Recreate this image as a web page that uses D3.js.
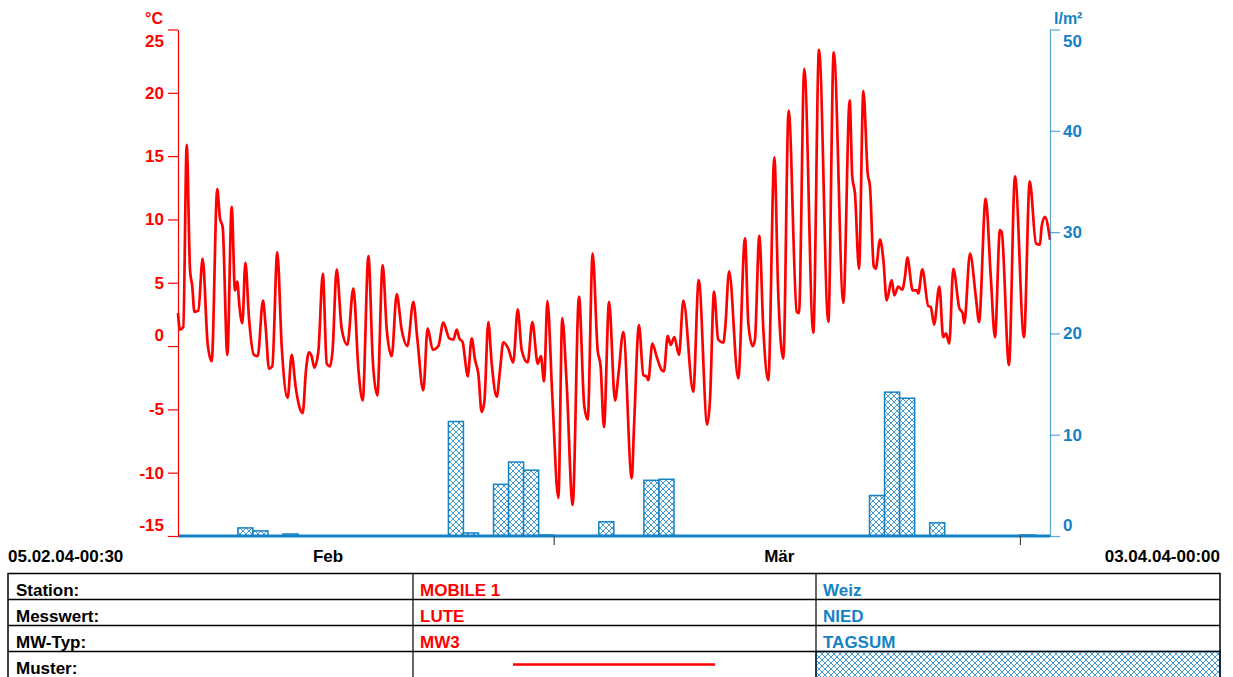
<!DOCTYPE html>
<html>
<head>
<meta charset="utf-8">
<script src="https://cdn.jsdelivr.net/npm/d3@7"></script>
<style>
  body { margin: 0; background: #fff; }
  svg { display: block; font-family: "Liberation Sans", Arial, sans-serif; font-weight: bold; }
</style>
</head>
<body>
<svg width="1233" height="677"></svg>
<script>
const svg = d3.select("svg");

const red = "#ff0000";
const blue = "#1482c5";

// time range of the chart (UTC, no DST jumps)
const startTime = new Date(Date.UTC(2004, 1, 5, 0, 30));
const endTime = new Date(Date.UTC(2004, 3, 3, 0, 0));

// temperature: days since 05.02.04-00:30 and value in °C
const tempDays = [
  0.00, 0.13, 0.35, 0.58, 0.80, 0.95, 1.09, 1.35, 1.64, 1.97, 2.24, 2.61, 2.79, 2.97, 3.28, 3.57,
  3.79, 3.94, 4.08, 4.28, 4.48, 4.72, 5.05, 5.30, 5.65, 5.83, 6.05, 6.27, 6.60, 6.90, 7.29, 7.56,
  7.82, 8.05, 8.29, 8.51, 8.71, 8.89, 9.06, 9.33, 9.63, 9.89, 10.10, 10.28, 10.55, 10.88, 11.26, 11.66,
  12.00, 12.28, 12.66, 12.95, 13.25, 13.61, 13.88, 14.21, 14.54, 14.87, 15.25, 15.65, 15.91, 16.31, 16.60, 16.94,
  17.31, 17.64, 18.04, 18.31, 18.53, 18.71, 18.93, 19.08, 19.26, 19.53, 19.75, 19.97, 20.19, 20.37, 20.63, 20.86,
  21.19, 21.41, 21.63, 21.96, 22.29, 22.59, 22.85, 23.25, 23.56, 23.92, 24.13, 24.34, 24.56, 24.89, 25.29, 25.55,
  25.84, 26.24, 26.66, 27.01, 27.24, 27.57, 27.90, 28.10, 28.32, 28.66, 29.06, 29.28, 29.61, 30.17, 30.32, 30.65,
  30.94, 31.16, 31.27, 31.54, 31.83, 32.16, 32.31, 32.56, 32.76, 33.00, 33.31, 33.60, 34.26, 34.62, 35.19, 35.37,
  35.64, 35.92, 36.26, 36.39, 36.64, 37.25, 37.70, 37.92, 38.21, 38.36, 38.65, 38.92, 39.25, 39.65, 39.91, 40.25,
  40.60, 41.14, 41.29, 41.64, 42.24, 42.62, 43.24, 43.60, 44.24, 44.66, 44.83, 45.01, 45.28, 45.57, 45.86, 46.01,
  46.26, 46.39, 46.68, 46.90, 47.12, 47.45, 47.63, 47.89, 48.15, 48.34, 48.49, 48.85, 49.12, 49.22, 49.49, 49.89,
  50.05, 50.27, 50.62, 50.88, 51.06, 51.28, 51.55, 51.95, 52.17, 52.28, 52.66, 53.06, 53.26, 53.70, 54.04, 54.32,
  54.65, 54.77, 55.25, 55.65, 56.25, 56.63, 57.05, 57.31, 57.42, 57.64, 57.98
];
const tempValues = [
  2.6, 1.3, 1.5, 15.9, 6.0, 4.7, 2.7, 2.8, 6.9, 0.2, -1.2, 12.4, 10.1, 9.4, -0.7, 11.0,
  4.4, 5.1, 3.2, 1.8, 6.6, 2.2, -0.7, -0.8, 3.6, 1.5, -1.8, -1.6, 7.4, -0.1, -4.1, -0.7,
  -3.2, -4.7, -5.3, -1.9, -0.5, -0.8, -1.7, -0.45, 5.7, -1.4, -1.6, -0.3, 6.05, 1.4, 0.1, 4.55,
  -1.9, -4.3, 7.1, -1.1, -3.9, 6.4, 1.3, -0.8, 4.1, 1.3, 0.0, 3.5, 0.6, -3.5, 1.4, -0.3,
  0.0, 1.85, 0.6, 0.5, 1.3, 0.6, 0.3, -1.0, -2.4, 0.6, -1.1, -2.2, -5.2, -4.4, 1.9, -1.4,
  -4.0, -1.9, 0.3, -0.2, -1.3, 2.9, -0.3, -1.3, 1.9, -1.4, -0.8, -2.8, 3.55, -4.0, -12.0, 2.2,
  -2.9, -12.55, 3.9, -4.7, -5.8, 7.3, -0.3, -1.6, -6.4, 3.5, -4.3, -2.3, 1.1, -10.45, -6.4, 1.65,
  -2.3, -2.4, -2.7, 0.2, -0.85, -1.9, -2.0, 0.8, 0.1, 0.7, -0.7, 3.6, -3.6, 5.2, -6.2, -4.3,
  4.3, 0.5, 0.26, 1.5, 5.9, -2.55, 8.5, 1.8, 0.0, 0.5, 8.7, 1.26, -2.7, 14.9, 4.15, -1.0,
  18.6, 2.7, 2.6, 21.9, 1.05, 23.4, 1.9, 23.2, 3.4, 19.4, 13.4, 12.05, 6.1, 20.15, 13.6, 12.6,
  6.3, 6.1, 8.4, 6.8, 3.6, 5.2, 4.0, 4.7, 4.45, 5.5, 7.0, 4.4, 4.4, 4.15, 6.05, 3.15,
  3.1, 1.7, 4.7, 0.7, 1.0, 0.2, 6.1, 3.0, 2.6, 1.8, 7.3, 3.76, 1.9, 11.65, 5.5, 0.7,
  9.15, 9.0, -1.5, 13.4, 0.7, 13.0, 8.1, 8.0, 9.4, 10.2, 8.4
];

// daily precipitation sums (Weiz, NIED, TAGSUM)
const rainDates = [
  "2004-02-09", "2004-02-10", "2004-02-12", "2004-02-23", "2004-02-24", "2004-02-26",
  "2004-02-27", "2004-02-28", "2004-02-29", "2004-03-04", "2004-03-07", "2004-03-08",
  "2004-03-22", "2004-03-23", "2004-03-24", "2004-03-26", "2004-04-01"
];
const rainValues = [0.8, 0.5, 0.2, 11.3, 0.3, 5.1, 7.3, 6.5, 0.1, 1.4, 5.5, 5.6, 4.0, 14.2, 13.6, 1.3, 0.1];

const tempTicks = [-15, -10, -5, 0, 5, 10, 15, 20, 25];
const rainTicks = [0, 10, 20, 30, 40, 50];

const monthTicks = ["2004-03-01", "2004-04-01"];
const monthLabels = ["Feb", "Mär"];
const monthLabelDates = ["2004-02-15", "2004-03-16"];

const tableRows = ["Station:", "Messwert:", "MW-Typ:", "Muster:"];
const tempInfo = ["MOBILE 1", "LUTE", "MW3"];
const rainInfo = ["Weiz", "NIED", "TAGSUM"];

const parseDay = d3.utcParse("%Y-%m-%d");

const plot = { left: 178, right: 1050, top: 29.5, bottom: 536 };

const x = d3.scaleUtc().domain([startTime, endTime]).range([plot.left, plot.right]);
const yT = d3.scaleLinear().domain([-15, 25]).range([plot.bottom, plot.top]);
const yR = d3.scaleLinear().domain([0, 50]).range([plot.bottom, plot.top]);

// plain hyphen for negatives, like the original
const fmt = d => String(d);

// cross-hatch pattern for the precipitation bars
const defs = svg.append("defs");
const pat = defs.append("pattern")
  .attr("id", "hatch")
  .attr("patternUnits", "userSpaceOnUse")
  .attr("width", 6).attr("height", 6);
pat.append("rect").attr("width", 6).attr("height", 6).attr("fill", "#fff");
pat.append("path")
  .attr("d", "M0,0L6,6M6,0L0,6")
  .attr("stroke", blue).attr("stroke-width", 0.8).attr("fill", "none");

// bars
const rain = rainDates.map((d, i) => ({ day: parseDay(d), value: rainValues[i] }));
svg.append("g").selectAll("rect")
  .data(rain)
  .enter().append("rect")
  .attr("x", d => x(d.day))
  .attr("y", d => yR(d.value))
  .attr("width", d => x(d3.utcDay.offset(d.day, 1)) - x(d.day))
  .attr("height", d => yR(0) - yR(d.value))
  .attr("fill", "url(#hatch)")
  .attr("stroke", blue)
  .attr("stroke-width", 1.5);

// zero line of precipitation
svg.append("line")
  .attr("x1", plot.left).attr("x2", plot.right)
  .attr("y1", yR(0)).attr("y2", yR(0))
  .attr("stroke", blue).attr("stroke-width", 3);

// temperature line
const temp = tempDays.map((d, i) => ({ t: new Date(+startTime + d * 864e5), v: tempValues[i] }));
svg.append("path")
  .datum(temp)
  .attr("fill", "none")
  .attr("stroke", red)
  .attr("stroke-width", 2.7)
  .attr("stroke-linejoin", "round")
  .attr("d", d3.line().x(d => x(d.t)).y(d => yT(d.v)).curve(d3.curveMonotoneX));

// left axis
const gL = svg.append("g")
  .attr("transform", `translate(${plot.left},0)`)
  .call(d3.axisLeft(yT).tickValues(tempTicks).tickFormat(fmt).tickSize(10).tickSizeOuter(0).tickPadding(4));
gL.selectAll("path, line").attr("stroke", red).attr("stroke-width", 1.2);
gL.selectAll("text").attr("fill", red).style("font-size", "17px").style("font-weight", "bold")
  .style("font-family", "'Liberation Sans', Arial, sans-serif");

// right axis
const gR = svg.append("g")
  .attr("transform", `translate(${plot.right},0)`)
  .call(d3.axisRight(yR).tickValues(rainTicks).tickFormat(fmt).tickSize(10).tickSizeOuter(0).tickPadding(3));
gR.selectAll("path, line").attr("stroke", blue).attr("stroke-width", 1.2).attr("stroke-opacity", 0.7);
gR.selectAll("text").attr("fill", blue).style("font-size", "17px").style("font-weight", "bold")
  .style("font-family", "'Liberation Sans', Arial, sans-serif");

// top and bottom labels sit inside the axis range
[gL, gR].forEach(g => {
  g.selectAll(".tick text").each(function (d) {
    const t = d3.select(this);
    if (d === 25 || d === 50) t.attr("dy", "1.0em");
    if (d === -15 || d === 0) t.attr("dy", "-0.3em");
  });
});

// units
svg.append("text")
  .attr("x", 163).attr("y", 24)
  .attr("text-anchor", "end")
  .attr("fill", red).style("font-size", "16px")
  .text("°C");
svg.append("text")
  .attr("x", 1054).attr("y", 24)
  .attr("fill", blue).style("font-size", "16px")
  .text("l/m²");

// month ticks and labels
const gX = svg.append("g")
  .attr("transform", `translate(0,${plot.bottom})`)
  .call(d3.axisBottom(x).tickValues(monthTicks.map(parseDay)).tickSize(9).tickFormat(""));
gX.select(".domain").remove();
gX.selectAll("line").attr("stroke", "#444").attr("stroke-width", 1.2);

svg.append("g").selectAll("text")
  .data(monthLabels)
  .enter().append("text")
  .attr("x", (d, i) => x(parseDay(monthLabelDates[i])))
  .attr("y", 562)
  .attr("text-anchor", "middle")
  .attr("fill", "#000").style("font-size", "17px")
  .text(d => d);

svg.append("text")
  .attr("x", 8).attr("y", 562)
  .attr("fill", "#000").style("font-size", "17px")
  .text(d3.utcFormat("%d.%m.%y-%H:%M")(startTime));
svg.append("text")
  .attr("x", 1220).attr("y", 562)
  .attr("text-anchor", "end")
  .attr("fill", "#000").style("font-size", "17px")
  .text(d3.utcFormat("%d.%m.%y-%H:%M")(endTime));

// legend table
const tbl = { left: 8, right: 1220, top: 573.5, rowH: 26, col1: 413, col2: 816 };
const tg = svg.append("g");

// hatched sample cell
tg.append("rect")
  .attr("x", tbl.col2).attr("y", tbl.top + 3 * tbl.rowH)
  .attr("width", tbl.right - tbl.col2).attr("height", 40)
  .attr("fill", "url(#hatch)")
  .attr("stroke", blue).attr("stroke-width", 1.5);

tg.append("rect")
  .attr("x", tbl.left).attr("y", tbl.top)
  .attr("width", tbl.right - tbl.left).attr("height", 200)
  .attr("fill", "none").attr("stroke", "#000").attr("stroke-width", 1.5);
[1, 2, 3].forEach(i => {
  tg.append("line")
    .attr("x1", tbl.left).attr("x2", tbl.right)
    .attr("y1", tbl.top + i * tbl.rowH).attr("y2", tbl.top + i * tbl.rowH)
    .attr("stroke", "#000").attr("stroke-width", 1.5);
});
[tbl.col1, tbl.col2].forEach(cx => {
  tg.append("line")
    .attr("x1", cx).attr("x2", cx)
    .attr("y1", tbl.top).attr("y2", 677)
    .attr("stroke", "#000").attr("stroke-width", 1.2);
});

tg.selectAll(".rowlab")
  .data(tableRows)
  .enter().append("text")
  .attr("x", 16).attr("y", (d, i) => tbl.top + i * tbl.rowH + 22)
  .attr("fill", "#000").style("font-size", "17px")
  .text(d => d);
tg.selectAll(".tinfo")
  .data(tempInfo)
  .enter().append("text")
  .attr("x", 420).attr("y", (d, i) => tbl.top + i * tbl.rowH + 22)
  .attr("fill", red).style("font-size", "17px")
  .text(d => d);
tg.selectAll(".rinfo")
  .data(rainInfo)
  .enter().append("text")
  .attr("x", 823).attr("y", (d, i) => tbl.top + i * tbl.rowH + 22)
  .attr("fill", blue).style("font-size", "17px")
  .text(d => d);

// line sample
tg.append("line")
  .attr("x1", 513).attr("x2", 715)
  .attr("y1", tbl.top + 3 * tbl.rowH + 13).attr("y2", tbl.top + 3 * tbl.rowH + 13)
  .attr("stroke", red).attr("stroke-width", 2.5);
</script>
</body>
</html>
